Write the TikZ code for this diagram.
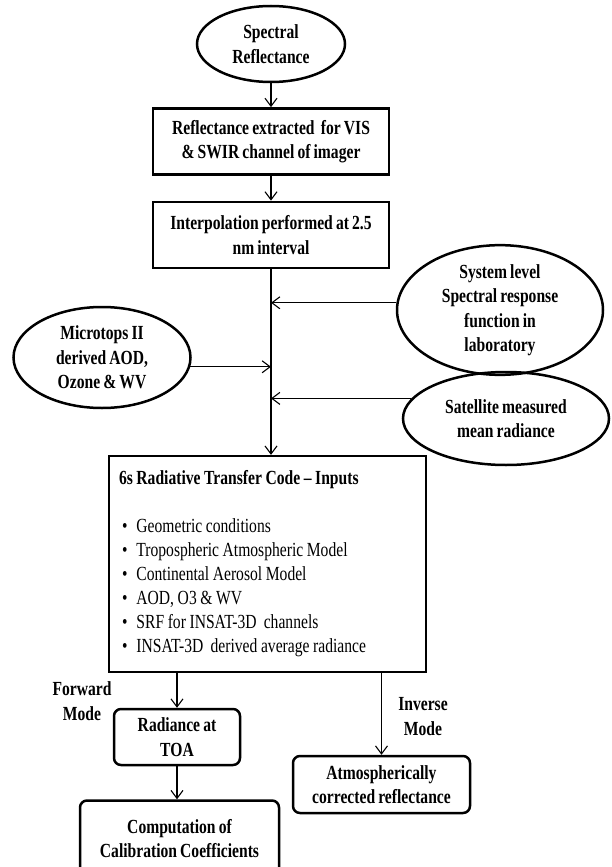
\documentclass[tikz,border=0pt]{standalone}
\usepackage{fontspec}
\setmainfont{Liberation Serif}[FakeStretch=0.78,WordSpace=0.8]
\usetikzlibrary{shapes.geometric,arrows.meta}
\newcommand{\tightsp}{\spaceskip=3.6pt plus 1pt\relax}
\begin{document}
\begin{tikzpicture}[x=1pt,y=-1pt,
  every node/.style={font=\fontsize{20}{24.5}\selectfont\bfseries, align=center, inner sep=0pt},
  ell/.style={ellipse, draw, line width=2.5pt},
  sqbox/.style={rectangle, draw, line width=2.7pt},
  rbox/.style={rectangle, draw, rounded corners=7pt, line width=2.5pt},
  arr/.style={-{Straight Barb[length=8pt,width=12pt,line width=1.1pt]}, line width=1.1pt}]
\useasboundingbox[fill=white] (0,0) rectangle (611,867);

\node[ell, minimum width=148, minimum height=76] (sr) at (271,44) {Spectral\\Reflectance};
\node[sqbox, minimum width=236, minimum height=66] (b1) at (271,141.5) {Reflectance extracted\ \ for VIS\\\& SWIR channel of imager};
\node[sqbox, minimum width=236, minimum height=66] (b2) at (271,235) {Interpolation performed at 2.5\\nm interval};

\node[ell, minimum width=206, minimum height=104] (sys) at (500,310) {System level\\Spectral response\\function in\\laboratory};
\node[ell, minimum width=177, minimum height=101] (mt) at (102,357.5) {Microtops II\\derived AOD,\\Ozone \& WV};
\node[ell, minimum width=206, minimum height=93] (sat) at (506,418.5) {Satellite measured\\mean radiance};

\node[sqbox, line width=2.3pt, minimum width=317, minimum height=216, text width=297, align=left,
      font=\fontsize{20}{24}\selectfont] (rt) at (267.5,564)
 {\tightsp\textbf{6s Radiative Transfer Code -- Inputs}\\[24pt]
  \hspace*{3pt}\textbullet\hspace{9pt}Geometric conditions\\
  \hspace*{3pt}\textbullet\hspace{9pt}Tropospheric Atmospheric Model\\
  \hspace*{3pt}\textbullet\hspace{9pt}Continental Aerosol Model\\
  \hspace*{3pt}\textbullet\hspace{9pt}AOD, O3 \& WV\\
  \hspace*{3pt}\textbullet\hspace{9pt}SRF for INSAT-3D\ \ channels\\
  \hspace*{3pt}\textbullet\hspace{9pt}INSAT-3D\ \ derived average radiance};

\node[rbox, minimum width=126, minimum height=56] (rad) at (177,737) {Radiance at\\TOA};
\node[rbox, minimum width=199, minimum height=76] (comp) at (179.5,838.5) {Computation of\\Calibration Coefficients};
\node[rbox, minimum width=177, minimum height=57] (atm) at (381.5,784.5) {Atmospherically\\corrected reflectance};

\node (fm) at (82,701) {Forward\\Mode};
\node (im) at (423,716.5) {Inverse\\Mode};

\draw[arr] (sr) -- (b1);
\draw[arr] (b1) -- (b2);
\draw[arr] (b2.south) -- (b2.south |- rt.north);
\draw[arr] (sys.176) -- (sys.176 -| b2.south);
\draw[arr] (mt.-6) -- (mt.-6 -| b2.south);
\draw[arr] (sat.168) -- (sat.168 -| b2.south);
\draw[arr] (rad.north |- rt.south) -- (rad.north);
\draw[arr] (rad) -- (rad.south |- comp.north);
\draw[arr] (atm.north |- rt.south) -- (atm.north);
\end{tikzpicture}
\end{document}
